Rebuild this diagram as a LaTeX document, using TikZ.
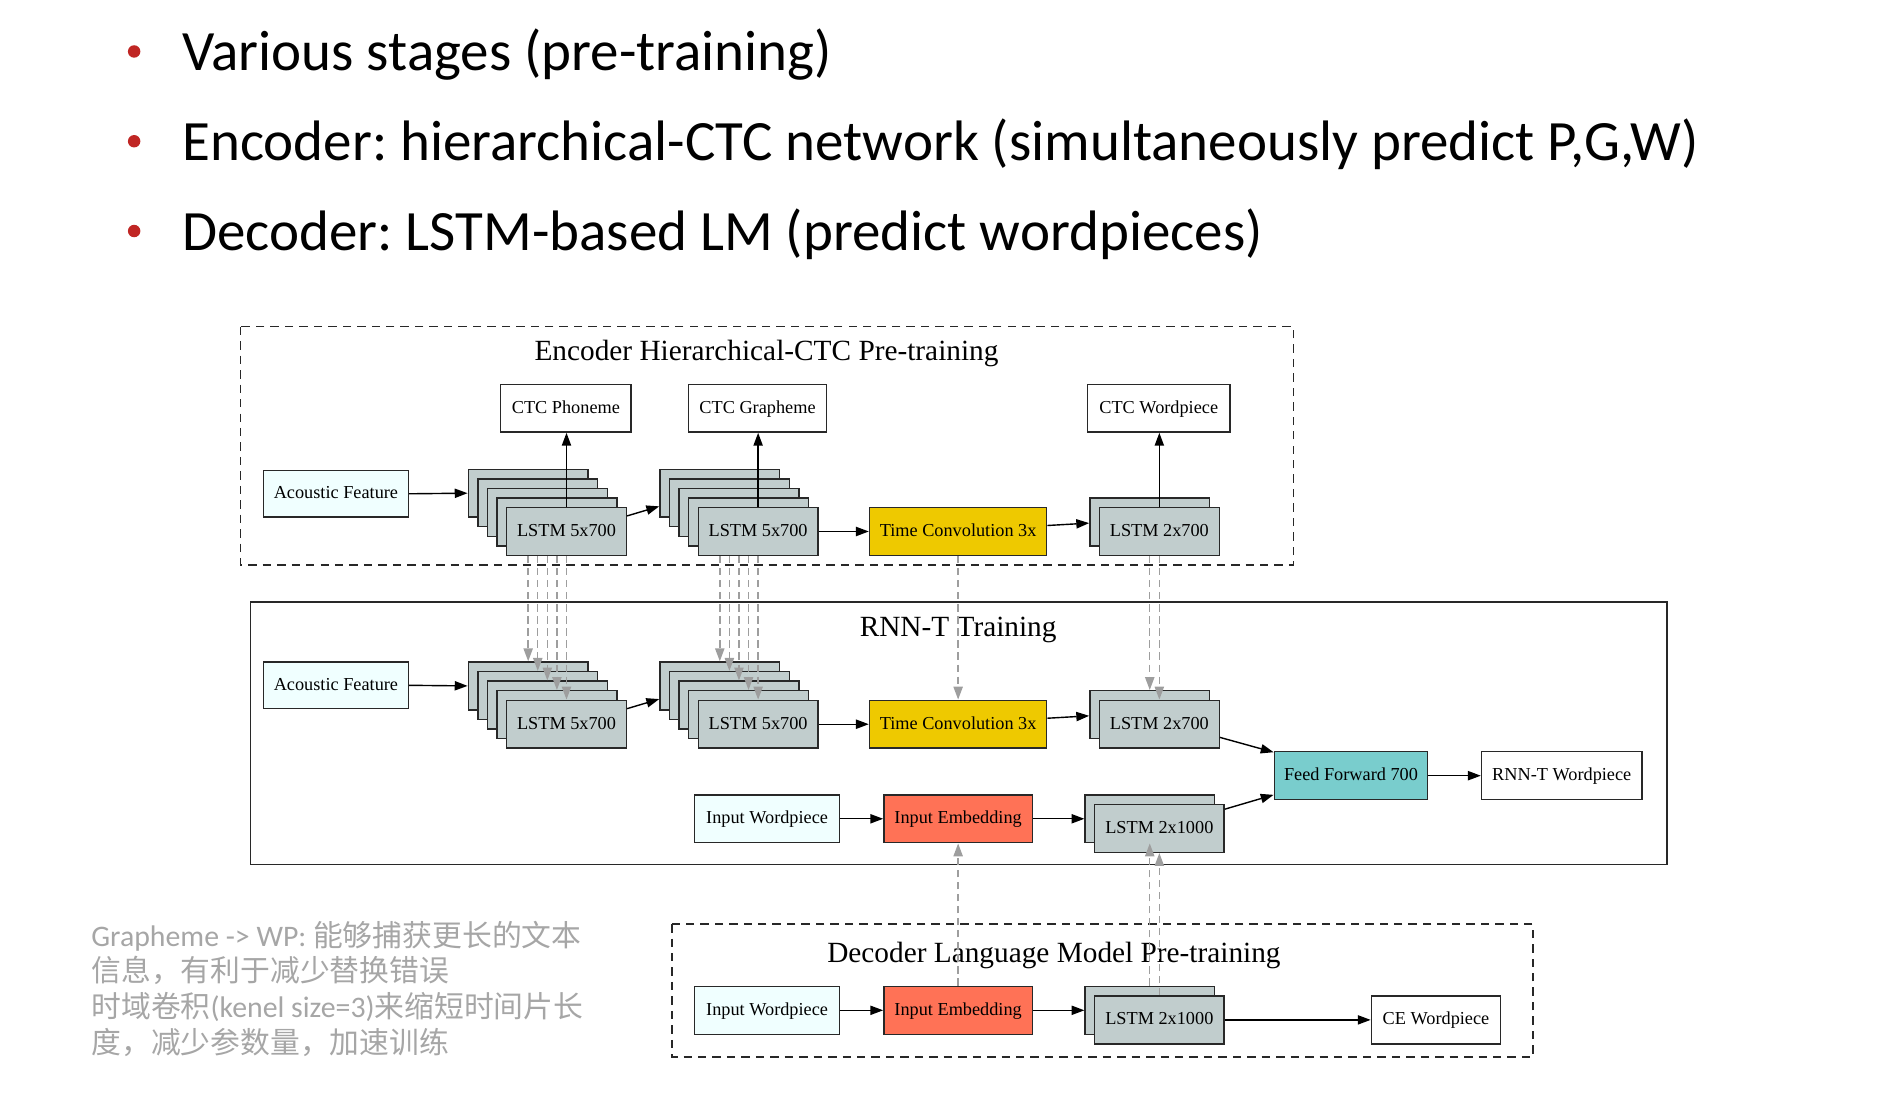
\documentclass[tikz,border=0pt]{standalone}
\usepackage{fontspec}
\setmainfont{Liberation Serif}
\newfontfamily\carlito{Carlito}
\newfontfamily\cjk{Noto Sans CJK SC}
\usetikzlibrary{arrows.meta,calc}
\frenchspacing
\definecolor{azurefill}{RGB}{240,255,255}
\definecolor{lstmfill}{RGB}{193,205,205}
\definecolor{goldfill}{RGB}{238,201,0}
\definecolor{coralfill}{RGB}{255,114,86}
\definecolor{tealfill}{RGB}{121,205,205}
\definecolor{edgegray}{RGB}{40,40,40}
\definecolor{dashgray}{RGB}{158,158,158}
\definecolor{notegray}{RGB}{166,166,166}
\definecolor{bulletred}{RGB}{192,38,36}
\def\ux{0.5966}
\def\uy{0.5963}
\newcommand\gvbox[7]{%
  \pgfmathsetmacro\bw{((#5)-(#3))*\ux}%
  \pgfmathsetmacro\bh{((#6)-(#4))*\uy}%
  \node[#1,minimum width=\bw pt,minimum height=\bh pt] (#2) at ({((#3)+(#5))/2},{((#4)+(#6))/2}) {#7};}
\tikzset{
  gv/.style={draw=edgegray,line width=0.7pt,inner sep=0pt,text=black,
    text height=0.7em,text depth=0.2em,
    font=\fontsize{9.1}{10}\selectfont},
  azbox/.style={gv,fill=azurefill},
  lstm/.style={gv,fill=lstmfill},
  tconv/.style={gv,fill=goldfill},
  emb/.style={gv,fill=coralfill},
  ffbox/.style={gv,fill=tealfill},
  outbox/.style={gv,fill=white},
  arr/.style={draw=black,line width=0.7pt,-{Triangle[length=6.4pt,width=4.6pt]}},
  darr/.style={draw=dashgray,line width=0.7pt,dash pattern=on 3.6pt off 2.4pt,
    -{Triangle[length=6.4pt,width=4.6pt,fill=dashgray]}},
  cluster/.style={draw=edgegray,line width=0.7pt},
  ttl/.style={font=\fontsize{14.6}{16}\selectfont,inner sep=0pt},
  bullettext/.style={font=\carlito\fontsize{28.4}{32}\selectfont,anchor=base west,inner sep=0pt},
  note/.style={text=notegray,font=\fontsize{14.85}{17}\selectfont,anchor=base west,inner sep=0pt},
}
\begin{document}
\begin{tikzpicture}[x=\ux pt,y=-\uy pt]
\useasboundingbox (0,0) rectangle (1568.9,927.2);

% bullets
\foreach \yy in {43,118,193}{\fill[bulletred] (112,\yy) circle (5.2);}
\node[bullettext] (t1) at (152,59) {Various stages (pre-training)};
\node[bullettext] (t2) at (152,134) {Encoder: hierarchical-CTC network (simultaneously predict P,G,W)};
\node[bullettext] (t3) at (152,209) {Decoder: LSTM-based LM (predict wordpieces)};

% note text
\node[note] (n1) at (76,791) {{\carlito Grapheme -> WP: }{\cjk 能够捕获更长的文本}};
\node[note] (n2) at (76,820) {{\cjk 信息，有利于减少替换错误}};
\node[note] (n3) at (76,850) {{\cjk 时域卷积}{\carlito (kenel size=3)}{\cjk 来缩短时间片长}};
\node[note] (n4) at (76,880) {{\cjk 度，减少参数量，加速训练}};

% clusters
\draw[cluster,dash pattern=on 4.2pt off 3pt] (201,273) rectangle (1080,472);
\node[ttl] (enct) at (640,295) {Encoder Hierarchical-CTC Pre-training};
\draw[cluster] (209,503) rectangle (1392,722);
\node[ttl] (rnnt) at (800,526) {RNN-T Training};
\draw[cluster,dash pattern=on 4.2pt off 3pt] (561,772) rectangle (1280,883);
\node[ttl] (dect) at (880,798) {Decoder Language Model Pre-training};

% ---------- encoder ----------
\gvbox{outbox}{ctcp}{418}{321}{527}{361}{CTC Phoneme}
\gvbox{outbox}{ctcg}{575}{321}{690}{361}{CTC Grapheme}
\gvbox{outbox}{ctcw}{908}{321}{1027}{361}{CTC Wordpiece}
\gvbox{azbox}{eaf}{220}{393}{341}{432}{Acoustic Feature}
\foreach \i/\n in {0/a,1/b,2/c,3/d}{
  \gvbox{lstm}{e1\n}{391+8*\i}{392+8*\i}{491+8*\i}{432+8*\i}{}
}
\gvbox{lstm}{e1e}{423}{424}{523}{464}{LSTM 5x700}
\foreach \i/\n in {0/a,1/b,2/c,3/d}{
  \gvbox{lstm}{e2\n}{551+8*\i}{392+8*\i}{651+8*\i}{432+8*\i}{}
}
\gvbox{lstm}{e2e}{583}{424}{683}{464}{LSTM 5x700}
\gvbox{tconv}{etc}{726}{424}{874}{464}{Time Convolution 3x}
\gvbox{lstm}{e7a}{910}{416}{1010}{456}{}
\gvbox{lstm}{e7b}{918}{424}{1018}{464}{LSTM 2x700}

% ---------- RNN-T ----------
\gvbox{azbox}{raf}{220}{553}{341}{592}{Acoustic Feature}
\foreach \i/\n in {0/a,1/b,2/c,3/d}{
  \gvbox{lstm}{r1\n}{391+8*\i}{553+8*\i}{491+8*\i}{593+8*\i}{}
}
\gvbox{lstm}{r1e}{423}{585}{523}{625}{LSTM 5x700}
\foreach \i/\n in {0/a,1/b,2/c,3/d}{
  \gvbox{lstm}{r2\n}{551+8*\i}{553+8*\i}{651+8*\i}{593+8*\i}{}
}
\gvbox{lstm}{r2e}{583}{585}{683}{625}{LSTM 5x700}
\gvbox{tconv}{rtc}{726}{585}{874}{625}{Time Convolution 3x}
\gvbox{lstm}{r7a}{910}{577}{1010}{617}{}
\gvbox{lstm}{r7b}{918}{585}{1018}{625}{LSTM 2x700}
\gvbox{ffbox}{rff}{1064}{628}{1192}{668}{Feed Forward 700}
\gvbox{outbox}{rwp}{1237}{628}{1371}{668}{RNN-T Wordpiece}
\gvbox{azbox}{riw}{580}{664}{701}{704}{Input Wordpiece}
\gvbox{emb}{rie}{738}{664}{862}{704}{Input Embedding}
\gvbox{lstm}{rla}{906}{664}{1014}{704}{}
\gvbox{lstm}{rlb}{914}{672}{1022}{712}{LSTM 2x1000}

% ---------- decoder ----------
\gvbox{azbox}{diw}{580}{824}{701}{864}{Input Wordpiece}
\gvbox{emb}{die}{738}{824}{862}{864}{Input Embedding}
\gvbox{lstm}{dla}{906}{824}{1014}{864}{}
\gvbox{lstm}{dlb}{914}{832}{1022}{872}{LSTM 2x1000}
\gvbox{outbox}{dce}{1145}{832}{1253}{872}{CE Wordpiece}

% ---------- solid edges ----------
\draw[arr] (eaf.east) -- (e1a.west);
\draw[arr] ($(e1e.east)+(0,-13)$) -- ($(e2a.west)+(0,11)$);
\draw[arr] (e2e.east) -- (etc.west);
\draw[arr] ($(etc.east)+(0,-5)$) -- ($(e7a.west)+(0,1)$);
\draw[arr] (e1e.north) -- (e1e.north |- ctcp.south);
\draw[arr] (e2e.north) -- (e2e.north |- ctcg.south);
\draw[arr] (e7b.north) -- (e7b.north |- ctcw.south);

\draw[arr] (raf.east) -- (r1a.west);
\draw[arr] ($(r1e.east)+(0,-13)$) -- ($(r2a.west)+(0,11)$);
\draw[arr] (r2e.east) -- (rtc.west);
\draw[arr] ($(rtc.east)+(0,-5)$) -- ($(r7a.west)+(0,1)$);
\draw[arr] ($(r7b.east)+(0,11)$) -- ($(rff.north west)+(0,1)$);
\draw[arr] ($(rlb.east)+(0,-16)$) -- ($(rff.west)+(0,16)$);
\draw[arr] (rff.east) -- (rwp.west);
\draw[arr] (riw.east) -- (rie.west);
\draw[arr] (rie.east) -- (rla.west);

\draw[arr] (diw.east) -- (die.west);
\draw[arr] (die.east) -- (dla.west);
\draw[arr] (dlb.east) -- (dce.west);

% ---------- dashed weight-transfer edges ----------
\foreach \n in {a,b,c,d,e}{
  \draw[darr] (e1\n.center |- e1e.south) -- (r1\n.north);
  \draw[darr] (e2\n.center |- e2e.south) -- (r2\n.north);
}
\draw[darr] (etc.south) -- (rtc.north);
\draw[darr] (e7a.center |- e7b.south) -- (r7a.north);
\draw[darr] (e7b.south) -- (r7b.north);
\draw[darr] (die.north) -- (rie.south);
\draw[darr] (dla.north) -- (rla.south);
\draw[darr] (dlb.north) -- (rlb.south);
\end{tikzpicture}
\end{document}
